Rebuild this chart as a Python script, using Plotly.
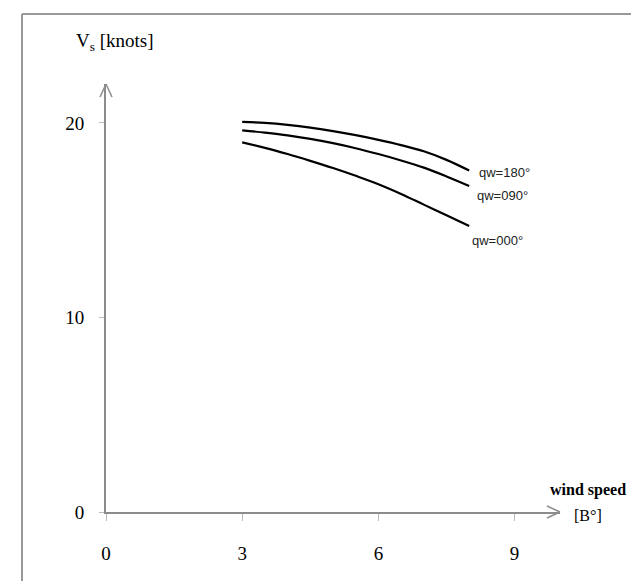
import plotly.graph_objects as go

# ---- data ----
wind_speed = [3, 3.5, 4, 4.5, 5, 5.5, 6, 6.5, 7, 7.5, 8]
vs_qw180 = [20.05, 20.0, 19.9, 19.76, 19.58, 19.37, 19.13, 18.86, 18.54, 18.1, 17.55]
vs_qw090 = [19.62, 19.5, 19.36, 19.18, 18.96, 18.7, 18.4, 18.07, 17.7, 17.25, 16.76]
vs_qw000 = [19.0, 18.72, 18.4, 18.05, 17.68, 17.28, 16.85, 16.35, 15.8, 15.25, 14.7]
series_labels = ["qw=180°", "qw=090°", "qw=000°"]
x_ticks = [0, 3, 6, 9]
y_ticks = [0, 10, 20]

W, H = 639, 581
ML, MR, MT, MB = 98, 87, 76, 77
PW, PH = W - ML - MR, H - MT - MB

def px(xp):  # pixel -> paper x
    return (xp - ML) / PW

def py(yp):  # pixel -> paper y
    return (H - MB - yp) / PH

fig = go.Figure()
series = [vs_qw180, vs_qw090, vs_qw000]
for vals, name in zip(series, series_labels):
    fig.add_trace(go.Scatter(x=wind_speed, y=vals, mode="lines", name=name,
                             line=dict(color="black", width=2.2, shape="spline"),
                             showlegend=False, hoverinfo="skip"))

# curve labels next to the curve ends
label_offsets = [(8, -2), (6, -10), (1, -14)]
for vals, name, (dx, dy) in zip(series, series_labels, label_offsets):
    fig.add_annotation(x=wind_speed[-1], y=vals[-1], text=name, showarrow=False,
                       xanchor="left", yanchor="middle", xshift=dx, yshift=dy,
                       font=dict(family="Liberation Sans", size=13, color="#222"))

axis_col = "#8c8c8c"
fig.update_layout(
    width=W, height=H, margin=dict(l=ML, r=MR, t=MT, b=MB),
    paper_bgcolor="white", plot_bgcolor="white",
    xaxis=dict(range=[0, 10.0], tickvals=x_ticks, ticktext=[str(v) for v in x_ticks],
               showgrid=False, zeroline=False, showline=True, linecolor=axis_col, linewidth=2,
               ticks="outside", ticklen=7, tickcolor="#bbbbbb", tickwidth=1,
               ticklabelstandoff=16,
               tickfont=dict(family="Liberation Serif", size=19, color="black")),
    yaxis=dict(range=[0, 22.0], tickvals=y_ticks, ticktext=[str(v) for v in y_ticks],
               showgrid=False, zeroline=False, showline=True, linecolor=axis_col, linewidth=2,
               ticks="outside", ticklen=5, tickcolor="#bbbbbb", tickwidth=1,
               ticklabelstandoff=11,
               tickfont=dict(family="Liberation Serif", size=19, color="black")),
)

# open arrow heads at the axis ends
ax_w, ax_l = 6, 13
shapes = [
    dict(type="line", xref="paper", yref="paper", x0=0, y0=1, x1=-ax_w / PW, y1=1 - ax_l / PH),
    dict(type="line", xref="paper", yref="paper", x0=0, y0=1, x1=ax_w / PW, y1=1 - ax_l / PH),
    dict(type="line", xref="paper", yref="paper", x0=1, y0=0, x1=1 - ax_l / PW, y1=ax_w / PH),
    dict(type="line", xref="paper", yref="paper", x0=1, y0=0, x1=1 - ax_l / PW, y1=-ax_w / PH),
]
for s in shapes:
    s["line"] = dict(color=axis_col, width=1.5)
    fig.add_shape(**s)

# outer frame (top and left)
frame_col = "#999999"
fig.add_shape(type="line", xref="paper", yref="paper", x0=px(14), y0=py(6), x1=px(W + 2), y1=py(6),
              line=dict(color=frame_col, width=2))
fig.add_shape(type="line", xref="paper", yref="paper", x0=px(14), y0=py(6), x1=px(14), y1=py(H + 2),
              line=dict(color=frame_col, width=2))

# axis titles
fig.add_annotation(xref="paper", yref="paper", x=px(66), y=py(34), xanchor="left", yanchor="middle",
                   text="V<sub>s</sub> [knots]", showarrow=False,
                   font=dict(family="Liberation Serif", size=19, color="black"))
fig.add_annotation(xref="paper", yref="paper", x=px(580), y=py(482), xanchor="center", yanchor="middle",
                   text="<b>wind speed</b>", showarrow=False,
                   font=dict(family="Liberation Serif", size=16, color="black"))
fig.add_annotation(xref="paper", yref="paper", x=px(580), y=py(507), xanchor="center", yanchor="middle",
                   text="[B°]", showarrow=False,
                   font=dict(family="Liberation Serif", size=16, color="black"))

fig.write_html("out.html")
